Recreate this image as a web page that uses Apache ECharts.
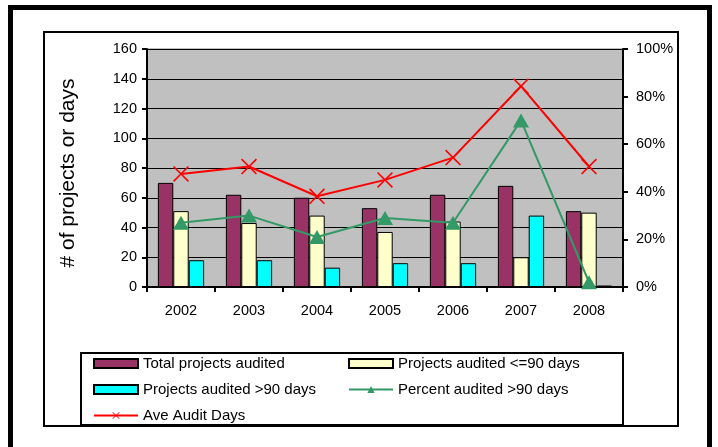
<!DOCTYPE html>
<html>
<head>
<meta charset="utf-8">
<script src="https://cdn.jsdelivr.net/npm/echarts@6/dist/echarts.min.js"></script>
<style>
  html, body { margin: 0; padding: 0; background: #fff; }
  #main { width: 718px; height: 447px; }
</style>
</head>
<body>
<div id="main"></div>
<script>
// data
const years = ['2002', '2003', '2004', '2005', '2006', '2007', '2008'];
const totalAudited = [70, 62, 60, 53, 62, 68, 51];
const within90 = [51, 43, 48, 37, 44, 20, 50];
const over90 = [18, 18, 13, 16, 16, 48, 1];
const pctOver90 = [27, 30, 21, 29, 27, 70, 2];
const aveDays = [76, 81, 61, 72, 87, 135, 81];

const font = 'Liberation Sans, Arial, sans-serif';
const crossPath = 'path://M0,0.7L0.7,0L5,4.3L9.3,0L10,0.7L5.7,5L10,9.3L9.3,10L5,5.7L0.7,10L0,9.3L4.3,5Z';

const chart = echarts.init(document.getElementById('main'));

const axisLine = { show: true, lineStyle: { color: '#000', width: 2 } };
const axisTick = { show: true, inside: false, length: 5, lineStyle: { color: '#000', width: 2 } };

const option = {
  backgroundColor: '#fff',
  animation: false,
  textStyle: { fontFamily: font },
  grid: {
    left: 147, right: 95, top: 49, bottom: 160,
    show: true, backgroundColor: '#c0c0c0', borderColor: '#808080', borderWidth: 1
  },
  legend: [
    {
      orient: 'vertical', left: 93, top: 356, padding: 0,
      itemWidth: 44, itemHeight: 9, itemGap: 11,
      textStyle: { fontSize: 15, color: '#000', fontFamily: font },
      data: [
        { name: 'Total projects audited', icon: 'rect' },
        { name: 'Projects audited >90 days', icon: 'rect' },
        { name: 'Ave Audit Days' }
      ]
    },
    {
      orient: 'vertical', left: 348, top: 356, padding: 0,
      itemWidth: 44, itemHeight: 9, itemGap: 11,
      textStyle: { fontSize: 15, color: '#000', fontFamily: font },
      data: [
        { name: 'Projects audited <=90 days', icon: 'rect' },
        { name: 'Percent audited >90 days' }
      ]
    }
  ],
  xAxis: {
    type: 'category',
    data: years,
    axisLine: axisLine,
    axisTick: axisTick,
    axisLabel: { color: '#000', fontSize: 14.5, margin: 16 },
    splitLine: { show: false }
  },
  yAxis: [
    {
      type: 'value', min: 0, max: 160, interval: 20,
      name: '# of projects or days',
      nameLocation: 'middle', nameRotate: 90, nameGap: 68,
      nameTextStyle: { fontSize: 21, color: '#000', padding: [0, 10, 0, 0] },
      axisLine: axisLine,
      axisTick: axisTick,
      axisLabel: { color: '#000', fontSize: 14.5, margin: 10 },
      splitLine: { show: true, lineStyle: { color: '#000', width: 1 } }
    },
    {
      type: 'value', min: 0, max: 100, interval: 20, position: 'right',
      axisLine: axisLine,
      axisTick: axisTick,
      axisLabel: { color: '#000', fontSize: 14.5, margin: 13, formatter: '{value}%' },
      splitLine: { show: false }
    }
  ],
  series: [
    {
      name: 'Total projects audited', type: 'bar', data: totalAudited,
      barGap: 0, barCategoryGap: '32%',
      itemStyle: { color: '#993366', borderColor: '#000', borderWidth: 1 }
    },
    {
      name: 'Projects audited <=90 days', type: 'bar', data: within90,
      itemStyle: { color: '#ffffcc', borderColor: '#000', borderWidth: 1 }
    },
    {
      name: 'Projects audited >90 days', type: 'bar', data: over90,
      itemStyle: { color: '#00ffff', borderColor: '#000', borderWidth: 1 }
    },
    {
      name: 'Percent audited >90 days', type: 'line', yAxisIndex: 1, data: pctOver90,
      symbol: 'triangle', symbolSize: [16, 14],
      lineStyle: { color: '#339966', width: 2 },
      itemStyle: { color: '#339966' },
      z: 3
    },
    {
      name: 'Ave Audit Days', type: 'line', data: aveDays,
      symbol: crossPath, symbolSize: 16,
      lineStyle: { color: '#ff0000', width: 2 },
      itemStyle: { color: '#ff0000' },
      z: 4
    }
  ],
  graphic: [
    { type: 'rect', z: 0, shape: { x: 10.5, y: 7.5, width: 699, height: 500 },
      style: { fill: null, stroke: '#000', lineWidth: 5 } },
    { type: 'rect', z: 0, shape: { x: 44, y: 32, width: 634, height: 394 },
      style: { fill: null, stroke: '#000', lineWidth: 2 } },
    { type: 'rect', z: 0, shape: { x: 81, y: 353, width: 542, height: 72 },
      style: { fill: null, stroke: '#000', lineWidth: 2 } }
  ]
};

chart.setOption(option);
window.addEventListener('resize', function () {
  chart.resize();
});
</script>
</body>
</html>
